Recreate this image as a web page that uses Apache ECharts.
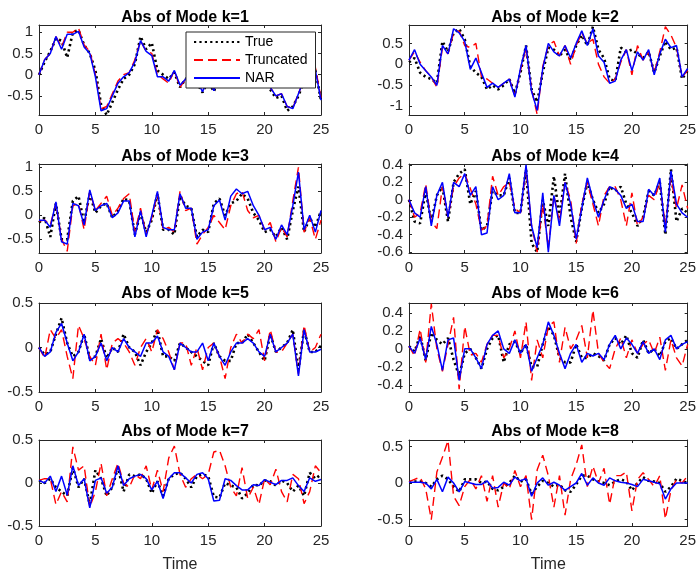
<!DOCTYPE html>
<html>
<head>
<meta charset="utf-8">
<script src="https://cdn.jsdelivr.net/npm/echarts@6/dist/echarts.min.js"></script>
<style>
html, body { margin: 0; padding: 0; background: #fff; }
#chart { width: 699px; height: 574px; }
</style>
</head>
<body>
<div id="chart"></div>
<script>
var time = [0, 0.5, 1, 1.5, 2, 2.5, 3, 3.5, 4, 4.5, 5, 5.5, 6, 6.5, 7, 7.5, 8, 8.5, 9, 9.5,
    10, 10.5, 11, 11.5, 12, 12.5, 13, 13.5, 14, 14.5, 15, 15.5, 16, 16.5, 17, 17.5, 18, 18.5, 19, 19.5,
    20, 20.5, 21, 21.5, 22, 22.5, 23, 23.5, 24, 24.5, 25];

// mode k=1
var trueK1 = [0.0, 0.3, 0.55, 0.85, 0.8, 0.4, 1.0, 1.05, 0.7, 0.5, 0.1, -0.7, -0.95, -0.65, -0.35, -0.1, 0.0, 0.25, 0.9, 0.6, 0.75, 0.1, 0.0, -0.1, 0.05, -0.3, -0.1,
    0.0, -0.2, -0.42, -0.15, -0.4, -0.05, 0.15, 0.35, 0.3, 0.4, 0.35, 0.15, 0.0, -0.15, -0.35, -0.55, -0.5, -0.85, -0.75, -0.5, -0.15, 0.3, 0.1, -0.6];
var truncK1 = [0.0, 0.35, 0.5, 0.9, 0.65, 1.0, 1.0, 1.1, 0.7, 0.55, 0.0, -0.8, -0.75, -0.45, -0.15, 0.0, 0.05, 0.35, 0.8, 0.55, 0.5, 0.0, -0.1, -0.2, 0.1, -0.3, -0.1,
    0.05, -0.15, -0.38, -0.1, -0.35, 0.0, 0.2, 0.35, 0.3, 0.45, 0.35, 0.1, 0.0, -0.1, -0.3, -0.5, -0.45, -0.75, -0.78, -0.45, -0.1, 0.4, 0.17, -0.55];
var narK1 = [0.0, 0.35, 0.5, 0.9, 0.6, 0.95, 0.95, 1.02, 0.65, 0.5, -0.05, -0.85, -0.8, -0.5, -0.2, -0.05, 0.05, 0.3, 0.8, 0.55, 0.45, -0.05, -0.05, -0.15, 0.1, -0.25, -0.1,
    0.05, -0.15, -0.4, -0.1, -0.38, 0.0, 0.2, 0.35, 0.3, 0.45, 0.35, 0.1, 0.0, -0.1, -0.3, -0.5, -0.45, -0.75, -0.8, -0.45, -0.1, 0.3, 0.1, -0.6];

// mode k=2
var trueK2 = [0.05, 0.15, -0.2, -0.3, -0.35, -0.45, 0.55, 0.3, 0.75, 0.85, 0.6, -0.05, -0.2, -0.3, -0.6, -0.5, -0.6, -0.5, -0.35, -0.7,
    -0.2, 0.45, -0.6, -0.9, -0.2, 0.4, 0.35, 0.2, 0.35, 0.1, 0.45, 0.7, 0.45, 0.9, 0.35, 0.15, -0.35, -0.4, 0.4, 0.3,
    0.35, 0.25, 0.15, 0.3, -0.2, 0.2, 0.55, 0.35, 0.4, -0.35, -0.15];
var truncK2 = [0.1, 0.3, 0.05, -0.15, -0.3, -0.55, 0.4, 0.25, 0.75, 0.8, 0.45, 0.4, 0.5, -0.3, -0.35, -0.45, -0.55, -0.45, -0.35, -0.75,
    -0.15, 0.4, -0.6, -1.2, -0.05, 0.45, 0.55, 0.2, 0.45, 0.0, 0.45, 0.75, 0.5, 0.6, 0.0, -0.3, -0.45, -0.35, 0.05, 0.35,
    -0.25, 0.45, 0.1, 0.3, -0.2, 0.3, 0.9, 0.7, 0.4, -0.3, -0.15];
var narK2 = [0.1, 0.35, 0.0, -0.15, -0.3, -0.5, 0.45, 0.25, 0.85, 0.75, 0.55, -0.12, 0.15, -0.2, -0.55, -0.45, -0.55, -0.45, -0.35, -0.78,
    -0.1, 0.45, -0.65, -1.1, -0.1, 0.5, 0.3, 0.2, 0.45, 0.15, 0.5, 0.8, 0.45, 0.85, 0.2, 0.05, -0.45, -0.4, 0.1, 0.35,
    -0.15, 0.3, 0.1, 0.35, -0.25, 0.25, 0.6, 0.4, 0.45, -0.3, -0.1];

// mode k=3
var trueK3 = [-0.15, -0.05, -0.45, 0.25, -0.5, -0.5, 0.3, 0.4, -0.15, 0.45, 0.05, 0.2, 0.25, -0.05, 0.1, 0.35, 0.3, -0.4, 0.05, -0.35,
    -0.1, 0.45, -0.3, -0.3, -0.4, 0.4, 0.2, 0.15, -0.45, -0.3, -0.35, 0.25, 0.35, 0.0, 0.25, 0.3, 0.45, 0.35, 0.05, -0.1,
    -0.35, -0.3, -0.45, -0.25, -0.5, 0.1, 0.6, -0.35, -0.05, -0.25, 0.1];
var truncK3 = [-0.12, -0.1, -0.2, 0.25, -0.5, -0.75, 0.2, 0.25, -0.3, 0.5, 0.1, 0.25, 0.4, 0.0, 0.15, 0.35, 0.45, -0.35, 0.15, -0.4,
    -0.05, 0.45, -0.3, -0.25, -0.35, 0.5, 0.1, 0.15, -0.6, -0.4, -0.25, 0.0, -0.15, -0.3, 0.2, 0.45, 0.5, 0.1, -0.05, 0.0,
    -0.3, -0.15, -0.55, -0.25, -0.45, 0.3, 1.0, -0.35, -0.05, -0.5, -0.1];
var narK3 = [-0.1, -0.1, -0.25, 0.28, -0.55, -0.6, 0.25, 0.2, -0.2, 0.53, 0.1, 0.2, 0.25, -0.05, 0.05, 0.3, 0.3, -0.45, 0.1, -0.45,
    0.0, 0.5, -0.25, -0.3, -0.3, 0.45, 0.15, 0.15, -0.5, -0.35, -0.3, 0.2, 0.32, -0.1, 0.4, 0.55, 0.45, 0.5, 0.2, 0.0,
    -0.3, -0.25, -0.5, -0.2, -0.4, 0.2, 0.9, -0.3, 0.0, -0.35, 0.1];

// mode k=4
var trueK4 = [0.0, -0.25, -0.27, 0.1, -0.25, 0.05, 0.15, -0.25, 0.2, 0.3, 0.35, -0.05, 0.1, -0.35, -0.3, 0.1, 0.05, 0.05, 0.25, -0.15,
    -0.15, 0.35, -0.5, -0.6, 0.0, -0.3, 0.27, -0.2, 0.3, -0.2, -0.48, -0.1, 0.2, 0.0, -0.15, -0.05, 0.15, 0.1, 0.15, -0.05,
    -0.15, -0.3, -0.2, 0.1, 0.05, 0.2, -0.4, 0.35, -0.25, -0.1, -0.15];
var truncK4 = [0.0, -0.2, -0.15, 0.18, -0.25, -0.33, 0.15, -0.2, 0.15, 0.25, 0.3, 0.13, -0.05, -0.35, -0.3, 0.27, 0.05, 0.15, 0.2, -0.1,
    -0.15, 0.35, -0.3, -0.6, -0.05, -0.55, 0.05, -0.25, 0.2, 0.0, -0.5, -0.05, 0.2, -0.05, -0.3, 0.05, 0.15, 0.15, 0.0, -0.3,
    0.08, -0.3, -0.2, 0.05, 0.0, 0.2, -0.3, 0.25, -0.1, 0.17, -0.1];
var narK4 = [0.0, -0.15, -0.2, 0.15, -0.3, 0.05, 0.2, -0.2, 0.2, 0.15, 0.3, 0.05, 0.15, -0.4, -0.38, 0.15, 0.0, 0.05, 0.3, -0.15,
    -0.15, 0.4, -0.3, -0.55, 0.08, -0.6, 0.05, -0.3, 0.2, -0.05, -0.45, -0.1, 0.25, 0.0, -0.2, 0.0, 0.15, 0.12, 0.05, -0.1,
    -0.05, -0.25, -0.25, 0.12, 0.05, 0.25, -0.37, 0.33, -0.05, -0.15, -0.2];

// mode k=5
var trueK5 = [0.0, -0.08, -0.05, 0.15, 0.33, 0.05, -0.1, -0.05, 0.15, -0.12, -0.1, 0.1, -0.12, 0.0, -0.05, 0.15, 0.0, -0.05, -0.2, -0.05,
    0.05, 0.2, -0.1, -0.1, -0.15, 0.05, 0.0, -0.05, -0.1, -0.15, -0.2, 0.05, -0.1, -0.15, -0.15, 0.05, 0.05, 0.15, 0.05, -0.05,
    -0.15, 0.15, -0.05, 0.0, 0.05, 0.2, -0.25, 0.2, -0.05, -0.05, 0.02];
var truncK5 = [0.0, -0.12, 0.2, 0.1, 0.2, -0.1, -0.35, 0.25, 0.1, -0.1, -0.2, 0.15, -0.25, 0.05, 0.1, 0.05, -0.05, -0.2, 0.0, 0.1,
    -0.05, 0.2, 0.1, -0.05, -0.25, 0.05, 0.05, -0.2, 0.0, -0.25, 0.0, 0.05, -0.1, -0.35, 0.0, 0.15, 0.05, 0.15, 0.1, 0.2,
    -0.15, 0.2, -0.05, -0.05, 0.05, 0.15, -0.3, 0.25, -0.05, 0.0, 0.15];
var narK5 = [0.0, -0.1, -0.05, 0.17, 0.27, 0.05, -0.15, -0.05, 0.15, -0.15, -0.1, 0.05, -0.15, 0.0, -0.05, 0.1, 0.0, -0.05, -0.1, 0.05,
    0.05, 0.13, -0.05, -0.1, -0.25, 0.05, 0.0, -0.05, -0.05, 0.05, -0.15, 0.05, -0.1, -0.2, -0.05, 0.05, 0.05, 0.1, 0.05, -0.05,
    -0.1, 0.15, -0.05, 0.0, 0.05, 0.15, -0.32, 0.2, -0.05, -0.05, -0.02];

// mode k=6
var trueK6 = [0.03, -0.03, 0.15, -0.13, 0.18, 0.1, 0.05, 0.12, -0.12, -0.3, -0.05, 0.0, -0.1, -0.22, 0.0, 0.12, 0.15, -0.15, 0.05, 0.08,
    -0.05, 0.05, -0.2, -0.2, 0.05, 0.25, 0.15, -0.1, -0.15, -0.15, 0.05, -0.1, -0.1, -0.05, -0.08, -0.13, 0.05, 0.12, 0.05, 0.15,
    -0.05, -0.1, 0.1, -0.05, 0.0, -0.08, 0.08, 0.12, 0.0, 0.05, 0.1];
var truncK6 = [0.03, -0.08, 0.22, -0.15, 0.5, 0.0, -0.25, 0.05, 0.35, -0.45, 0.25, -0.07, -0.05, -0.15, 0.05, 0.15, 0.15, -0.1, 0.0, 0.2,
    -0.1, 0.3, -0.35, 0.1, -0.1, 0.25, 0.3, -0.15, 0.24, 0.0, 0.1, 0.26, -0.1, 0.43, -0.05, -0.15, -0.22, 0.0, 0.12, -0.1,
    0.1, -0.05, 0.05, 0.1, -0.05, 0.13, -0.24, 0.1, -0.1, -0.19, 0.05];
var narK6 = [0.03, -0.05, 0.12, -0.12, 0.25, 0.05, -0.24, 0.1, 0.12, -0.35, 0.0, 0.0, -0.1, -0.22, 0.05, 0.15, 0.2, 0.0, -0.05, 0.1,
    -0.05, 0.05, -0.25, -0.1, 0.05, 0.3, 0.15, -0.05, -0.22, -0.05, 0.05, -0.15, -0.05, -0.08, -0.05, -0.12, 0.05, 0.15, 0.0, 0.12,
    0.05, -0.05, 0.08, -0.05, 0.0, -0.12, 0.1, 0.15, 0.0, 0.05, 0.08];

// mode k=7
var trueK7 = [0.03, 0.0, 0.05, -0.05, -0.1, -0.15, 0.18, -0.05, 0.05, -0.25, 0.15, 0.05, -0.15, -0.05, 0.18, -0.1, 0.1, 0.08, 0.1, 0.05,
    -0.12, 0.02, -0.15, 0.05, 0.1, 0.12, 0.05, -0.05, 0.08, 0.1, 0.08, -0.16, -0.17, 0.0, -0.03, -0.05, -0.18, -0.12, -0.02, -0.03,
    0.03, 0.02, -0.03, 0.03, 0.0, -0.1, -0.03, -0.15, 0.12, 0.05, 0.1];
var truncK7 = [0.03, 0.05, 0.05, -0.25, -0.1, -0.22, 0.42, 0.15, 0.2, -0.28, -0.1, 0.23, -0.15, 0.05, 0.23, 0.0, -0.05, 0.1, 0.05, 0.2,
    -0.08, 0.15, -0.1, 0.29, 0.43, 0.1, -0.05, 0.05, 0.1, 0.05, 0.1, 0.36, 0.38, 0.2, -0.05, -0.15, 0.18, -0.18, -0.05, -0.25,
    0.05, -0.02, 0.16, -0.1, -0.22, 0.1, 0.05, -0.24, -0.1, 0.2, 0.12];
var narK7 = [0.03, 0.0, 0.08, -0.1, 0.08, -0.14, 0.2, -0.03, 0.05, -0.29, 0.03, 0.06, -0.12, -0.05, 0.2, -0.03, 0.05, 0.08, 0.1, 0.05,
    -0.08, 0.02, -0.18, 0.05, 0.12, 0.12, 0.06, 0.0, 0.1, 0.12, 0.05, -0.21, -0.2, 0.05, 0.03, -0.03, -0.08, -0.08, -0.02, -0.03,
    0.04, 0.01, -0.02, 0.03, 0.03, 0.06, -0.03, -0.1, 0.06, 0.02, 0.04];

// mode k=8
var trueK8 = [0.01, 0.02, 0.02, 0.0, -0.05, 0.05, 0.1, 0.05, -0.05, -0.12, 0.05, 0.05, 0.05, 0.0, 0.02, -0.08, -0.1, -0.05, 0.0, 0.1,
    0.02, 0.05, -0.15, -0.05, 0.03, 0.0, -0.05, -0.02, -0.1, -0.12, -0.02, 0.1, 0.1, 0.05, 0.02, 0.0, -0.03, 0.02, 0.05, 0.02,
    -0.1, 0.0, 0.08, 0.03, 0.02, 0.0, -0.12, -0.05, 0.06, 0.03, 0.0];
var truncK8 = [0.02, 0.05, 0.08, -0.08, -0.5, 0.15, 0.35, 0.58, -0.18, -0.31, -0.05, 0.05, -0.08, 0.1, -0.25, 0.1, -0.33, 0.0, -0.08, 0.17,
    -0.05, 0.1, -0.5, 0.18, 0.38, 0.1, -0.33, 0.1, -0.44, 0.05, 0.25, 0.52, -0.05, 0.23, 0.0, 0.2, -0.29, 0.1, 0.1, 0.15,
    -0.38, 0.05, 0.14, 0.05, -0.05, 0.1, -0.49, -0.1, 0.05, 0.0, 0.1];
var narK8 = [0.01, 0.01, 0.01, 0.0, -0.08, 0.05, -0.12, 0.08, 0.0, -0.12, 0.02, 0.0, -0.02, -0.02, 0.03, -0.07, -0.06, 0.01, -0.03, 0.08,
    0.03, 0.06, -0.18, 0.0, 0.07, -0.03, 0.01, -0.03, -0.1, -0.05, 0.0, 0.13, -0.03, 0.07, 0.0, -0.03, 0.07, 0.03, 0.01, 0.0,
    -0.02, -0.05, 0.05, 0.03, 0.01, -0.01, -0.22, -0.08, 0.0, 0.0, 0.0];

var titles = ['Abs of Mode k=1', 'Abs of Mode k=2', 'Abs of Mode k=3', 'Abs of Mode k=4',
    'Abs of Mode k=5', 'Abs of Mode k=6', 'Abs of Mode k=7', 'Abs of Mode k=8'];
var yLimits = [[-0.95, 1.17], [-1.21, 0.94], [-0.785, 1.07], [-0.61, 0.41],
    [-0.5, 0.5], [-0.48, 0.51], [-0.5, 0.5], [-0.587, 0.587]];
var yTickValues = [[-0.5, 0, 0.5, 1], [-1, -0.5, 0, 0.5], [-0.5, 0, 0.5, 1], [-0.6, -0.4, -0.2, 0, 0.2, 0.4],
    [-0.5, 0, 0.5], [-0.4, -0.2, 0, 0.2, 0.4], [-0.5, 0, 0.5], [-0.5, 0, 0.5]];

var trueSets = [trueK1, trueK2, trueK3, trueK4, trueK5, trueK6, trueK7, trueK8];
var truncSets = [truncK1, truncK2, truncK3, truncK4, truncK5, truncK6, truncK7, truncK8];
var narSets = [narK1, narK2, narK3, narK4, narK5, narK6, narK7, narK8];

var chartDom = document.getElementById('chart');
var chartInstance = echarts.init(chartDom, null, { renderer: 'canvas' });

var fontFamily = '"Liberation Sans", Arial, Helvetica, sans-serif';
var axisColor = '#262626';
var gridLefts = [39, 409];
var gridTops = [25, 164, 303, 440];
var gridHeights = [90, 89, 89, 90];
var gridWidth = 282;
var titleTops = [5, 144, 281, 419];

function pairs(values) {
    return time.map(function (t, i) { return [t, values[i]]; });
}

function getChartOption() {
    var grids = [], xAxes = [], yAxes = [], series = [], titleList = [];
    for (var i = 0; i < 8; i++) {
        var col = i % 2;
        var row = Math.floor(i / 2);
        grids.push({
            left: gridLefts[col],
            top: gridTops[row],
            width: gridWidth,
            height: gridHeights[row]
        });
        titleList.push({
            text: titles[i],
            left: gridLefts[col] + gridWidth / 2,
            top: titleTops[row],
            textAlign: 'center',
            textStyle: { fontSize: 16, fontWeight: 'bold', color: '#000', fontFamily: fontFamily }
        });
        var axisLine = { show: true, onZero: false, lineStyle: { color: axisColor, width: 1 } };
        var axisTick = { show: true, inside: true, length: 3, lineStyle: { color: axisColor } };
        var bottomAxis = {
            gridIndex: i,
            type: 'value',
            position: 'bottom',
            min: 0,
            max: 25,
            interval: 5,
            axisLine: axisLine,
            axisTick: axisTick,
            splitLine: { show: false },
            axisLabel: { color: axisColor, fontSize: 15, margin: 7, fontFamily: fontFamily }
        };
        if (row === 3) {
            bottomAxis.name = 'Time';
            bottomAxis.nameLocation = 'middle';
            bottomAxis.nameGap = 31;
            bottomAxis.nameTextStyle = { color: axisColor, fontSize: 16, fontFamily: fontFamily };
        }
        xAxes.push(bottomAxis);
        xAxes.push({
            gridIndex: i,
            type: 'value',
            position: 'top',
            min: 0,
            max: 25,
            interval: 5,
            axisLine: axisLine,
            axisTick: axisTick,
            splitLine: { show: false },
            axisLabel: { show: false }
        });
        yAxes.push({
            gridIndex: i,
            type: 'value',
            position: 'left',
            min: yLimits[i][0],
            max: yLimits[i][1],
            axisLine: axisLine,
            axisTick: { show: true, inside: true, length: 3, lineStyle: { color: axisColor }, customValues: yTickValues[i] },
            splitLine: { show: false },
            axisLabel: { color: axisColor, fontSize: 15, margin: 6, fontFamily: fontFamily, customValues: yTickValues[i] }
        });
        yAxes.push({
            gridIndex: i,
            type: 'value',
            position: 'right',
            min: yLimits[i][0],
            max: yLimits[i][1],
            axisLine: axisLine,
            axisTick: { show: true, inside: true, length: 3, lineStyle: { color: axisColor }, customValues: yTickValues[i] },
            splitLine: { show: false },
            axisLabel: { show: false }
        });

        series.push({
            name: 'True',
            type: 'line',
            xAxisIndex: 2 * i,
            yAxisIndex: 2 * i,
            symbol: 'none',
            data: pairs(trueSets[i]),
            itemStyle: { color: '#000' },
            lineStyle: { color: '#000', width: 2.6, type: [2.2, 3.2] }
        });
        series.push({
            name: 'Truncated',
            type: 'line',
            xAxisIndex: 2 * i,
            yAxisIndex: 2 * i,
            symbol: 'none',
            data: pairs(truncSets[i]),
            itemStyle: { color: '#ff0000' },
            lineStyle: { color: '#ff0000', width: 1.4, type: [9, 5] }
        });
        series.push({
            name: 'NAR',
            type: 'line',
            xAxisIndex: 2 * i,
            yAxisIndex: 2 * i,
            symbol: 'none',
            data: pairs(narSets[i]),
            itemStyle: { color: '#0000ff' },
            lineStyle: { color: '#0000ff', width: 1.5 }
        });
    }

    return {
        animation: false,
        backgroundColor: '#fff',
        title: titleList,
        legend: {
            data: ['True', 'Truncated', 'NAR'],
            orient: 'vertical',
            left: 186,
            top: 32,
            backgroundColor: '#fff',
            borderColor: axisColor,
            borderWidth: 1,
            borderRadius: 0,
            padding: [3, 8, 3, 7],
            itemWidth: 46,
            itemHeight: 14,
            itemGap: 4,
            selectedMode: false,
            itemStyle: { opacity: 0, borderWidth: 0 },
            textStyle: { fontSize: 14, color: '#000', fontFamily: fontFamily }
        },
        grid: grids,
        xAxis: xAxes,
        yAxis: yAxes,
        series: series
    };
}

chartInstance.setOption(getChartOption());
</script>
</body>
</html>
